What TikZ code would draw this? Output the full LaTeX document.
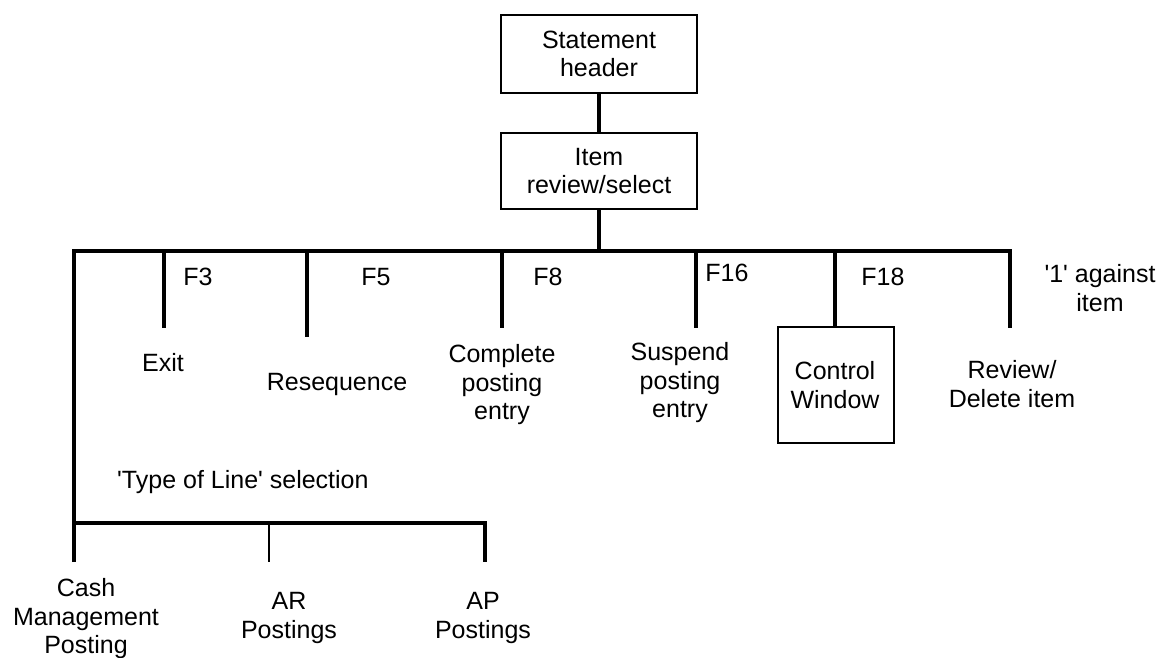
\documentclass[tikz,border=0pt]{standalone}
\usepackage{fontspec}
\newfontfamily\diagfont{Liberation Sans}
\begin{document}
\begin{tikzpicture}[x=1pt,y=-1pt,
  every node/.style={font=\diagfont\fontsize{25}{28.5}\selectfont, inner sep=0pt, align=center},
  boxnode/.style={draw, line width=1.8pt, minimum width=196pt},
  link/.style={line width=3.2pt, line join=miter, line cap=butt},
  thinlink/.style={line width=2.8pt, line cap=butt}]
\useasboundingbox (0,0) rectangle (1161,658);

% top boxes
\node[boxnode, minimum height=78pt] (hdr) at (599,54) {Statement\\header};
\node[boxnode, minimum height=76pt] (item) at (599,171) {Item\\review/select};
\draw[link] (hdr.south) -- (item.north);

% main bar and its junctions
\coordinate (barTop) at (599,251);
\coordinate (barL) at (74,251);
\coordinate (barR) at (1010,251);
\coordinate (j3) at (164,251);
\coordinate (j5) at (307,251);
\coordinate (j8) at (502,251);
\coordinate (j16) at (696,251);
\coordinate (j18) at (835,251);
\coordinate (e3) at (164,328);
\coordinate (e5) at (307,337);
\coordinate (e8) at (502,328);
\coordinate (e16) at (696,328);
\coordinate (eR) at (1010,328);

% type-of-line bar
\coordinate (tlL) at (74,523);
\coordinate (tlAR) at (269,523);
\coordinate (tlR) at (485,523);
\coordinate (eCash) at (74,562);
\coordinate (eAR) at (269,562);
\coordinate (eAP) at (485,562);

\draw[link] (item.south) -- (barTop);
\draw[link] (eCash) -- (tlL) -- (barL) -- (barR) -- (eR);
\draw[link] (j3) -- (e3);
\draw[link] (j5) -- (e5);
\draw[link] (j8) -- (e8);
\draw[link] (j16) -- (e16);

% control window
\node[draw, line width=1.8pt, minimum width=116pt, minimum height=116pt] (ctrl) at (836,385) {};
\node (ctrltxt) at (835,385) {Control\\Window};
\draw[link] (j18) -- (ctrl.north -| j18);

% function key labels
\node (f3) at (198,277) {F3};
\node (f5) at (376,277) {F5};
\node (f8) at (548,277) {F8};
\node (f16) at (727,273) {F16};
\node (f18) at (883,277) {F18};
\node (sel) at (1100,288) {'1' against\\item};

% branch targets
\node (exit) at (163,363) {Exit};
\node (reseq) at (337,384) {Resequence};
\node (compl) at (502,385) {Complete\\posting\\entry};
\node (susp) at (680,383) {Suspend\\posting\\entry};
\node (review) at (1012,384) {Review/\\Delete item};

% type of line selection
\node[anchor=west] (tol) at (117,482) {'Type of Line' selection};
\draw[link] (tlL) -- (tlR) -- (eAP);
\draw[thinlink] (tlAR) -- (eAR);
\node (cash) at (86,619) {Cash\\Management\\Posting};
\node (ar) at (289,618) {AR\\Postings};
\node (ap) at (483,618) {AP\\Postings};
\end{tikzpicture}
\end{document}
